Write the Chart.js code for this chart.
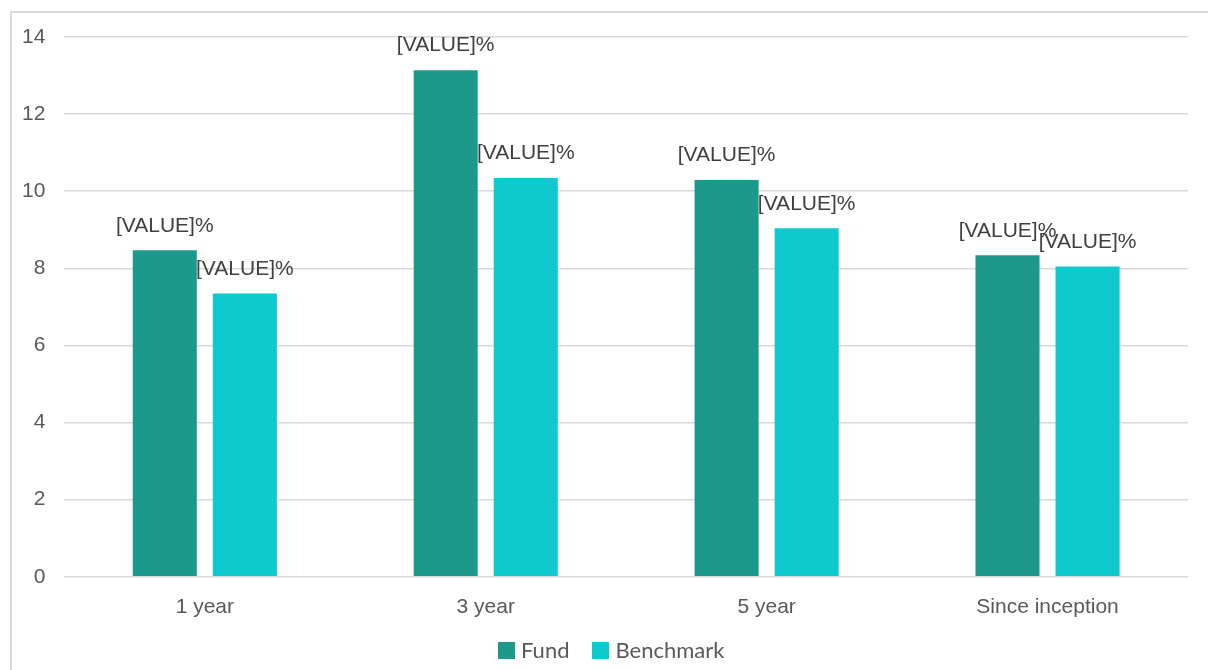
<!DOCTYPE html>
<html>
<head>
<meta charset="utf-8">
<script src="https://cdn.jsdelivr.net/npm/chart.js@4"></script>
<style>
  html, body { margin: 0; padding: 0; background: #fff; overflow: hidden; }
  #frame { position: absolute; left: 10px; top: 11px; width: 1300px; height: 800px; border: 2px solid #d9d9d9; box-sizing: border-box; }
  #wrap { position: absolute; left: 0; top: 0; width: 1208px; height: 670px; }
  #legend { position: absolute; left: 498px; top: 638px; display: flex; font: 22px Lato, "Open Sans", sans-serif; color: #595959; line-height: 24px; }
  #legend .item { display: flex; align-items: center; margin-right: 23px; }
  #legend .box { width: 17px; height: 17px; margin-right: 6px; }
</style>
</head>
<body>
<div id="frame"></div>
<div id="wrap"><canvas id="returnsChart"></canvas></div>
<div id="legend"></div>
<script>
const categories = ['1 year', '3 year', '5 year', 'Since inception'];
const seriesNames = ['Fund', 'Benchmark'];
const fundValues = [8.47, 13.14, 10.29, 8.34];
const benchmarkValues = [7.35, 10.34, 9.04, 8.05];
const yTicks = [0, 2, 4, 6, 8, 10, 12, 14];
const labelText = '[VALUE]%';
const colors = ['#1b998b', '#0ec9cd'];

// draws the placeholder value labels above every bar
const valueLabels = {
    id: 'valueLabels',
    afterDatasetsDraw(chart) {
        const ctx = chart.ctx;
        ctx.save();
        ctx.font = '21px "Liberation Sans", Arial, sans-serif';
        ctx.fillStyle = '#404040';
        ctx.textAlign = 'center';
        ctx.textBaseline = 'bottom';
        chart.data.datasets.forEach((ds, i) => {
            chart.getDatasetMeta(i).data.forEach(bar => {
                ctx.fillText(labelText, bar.x, bar.y - 14);
            });
        });
        ctx.restore();
    }
};

const ctx = document.getElementById('returnsChart').getContext('2d');
const chart = new Chart(ctx, {
    type: 'bar',
    data: {
        labels: categories,
        datasets: [{
            label: seriesNames[0],
            data: fundValues,
            backgroundColor: colors[0],
            barPercentage: 0.8,
            categoryPercentage: 0.57
        }, {
            label: seriesNames[1],
            data: benchmarkValues,
            backgroundColor: colors[1],
            barPercentage: 0.8,
            categoryPercentage: 0.57
        }]
    },
    options: {
        responsive: true,
        maintainAspectRatio: false,
        animation: false,
        layout: {
            padding: { left: 3, right: 20, top: 37, bottom: 40 }
        },
        scales: {
            x: {
                grid: { display: false },
                border: { display: false },
                ticks: {
                    color: '#595959',
                    font: { family: '"Liberation Sans", Arial, sans-serif', size: 21 },
                    padding: 10
                }
            },
            y: {
                min: 0,
                max: 14,
                afterBuildTicks(axis) {
                    axis.ticks = yTicks.map(v => ({ value: v }));
                },
                grid: { color: '#d9d9d9', lineWidth: 1.5, drawTicks: false },
                border: { display: false },
                ticks: {
                    color: '#595959',
                    font: { family: '"Liberation Sans", Arial, sans-serif', size: 21 },
                    padding: 19
                }
            }
        },
        plugins: {
            legend: { display: false },
            tooltip: { enabled: false }
        }
    },
    plugins: [valueLabels]
});

// html legend below the chart, built from the dataset names and colours
const legend = document.getElementById('legend');
chart.data.datasets.forEach(ds => {
    const item = document.createElement('div');
    item.className = 'item';
    const box = document.createElement('span');
    box.className = 'box';
    box.style.background = ds.backgroundColor;
    item.appendChild(box);
    item.appendChild(document.createTextNode(ds.label));
    legend.appendChild(item);
});
</script>
</body>
</html>
